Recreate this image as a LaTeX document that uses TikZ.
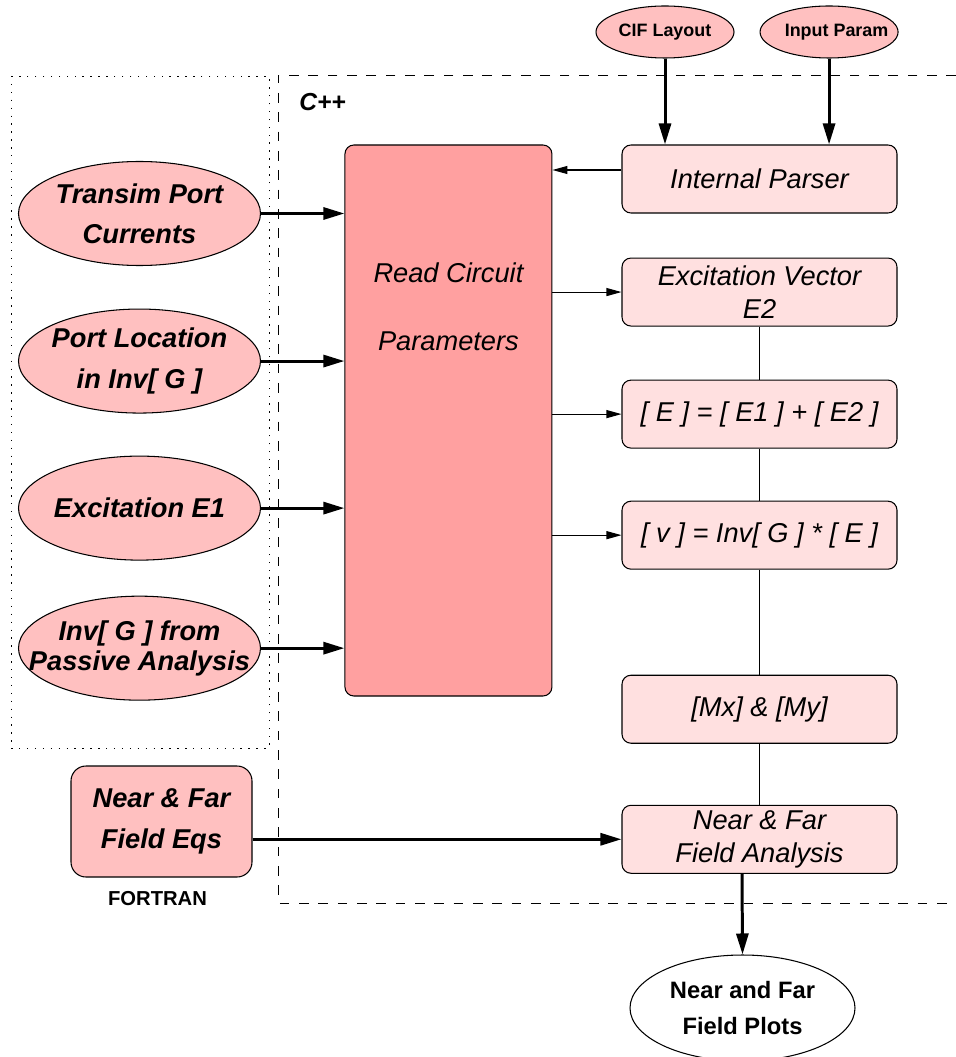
\documentclass[tikz,border=0pt]{standalone}
\usepackage{fontspec}
\setmainfont{Liberation Sans}
\usetikzlibrary{positioning,shapes.geometric,arrows.meta}
\definecolor{ellpink}{RGB}{255,192,192}
\definecolor{readpink}{RGB}{255,160,160}
\definecolor{boxpink}{RGB}{255,224,224}
\newcommand{\ovr}[1]{\makebox[0pt]{#1}}

\begin{document}
\begin{tikzpicture}[
    node distance=0.85cm,
    midbox/.style={draw, line width=0.6pt, rounded corners=0.18cm, fill=boxpink, minimum width=5.5cm, minimum height=1.36cm, inner sep=0.5pt, align=center, font=\itshape\fontsize{15.5}{18.5}\selectfont},
    readbox/.style={draw, line width=0.6pt, rounded corners=0.18cm, fill=readpink, minimum width=4.14cm, minimum height=11.02cm},
    readlbl/.style={align=center, font=\itshape\fontsize{15.5}{18.5}\selectfont},
    srcell/.style={draw, line width=0.6pt, ellipse, fill=ellpink, minimum width=4.84cm, minimum height=2.08cm, inner sep=0pt, align=center, font=\bfseries\itshape\fontsize{15.5}{23}\selectfont},
    topell/.style={srcell, minimum width=2.76cm, minimum height=1.04cm, font=\bfseries\fontsize{10.2}{12}\selectfont},
    eqbox/.style={draw, line width=0.6pt, rounded corners=0.3cm, fill=ellpink, minimum width=3.62cm, minimum height=2.22cm, align=center, font=\bfseries\itshape\fontsize{15.5}{23}\selectfont},
    plotell/.style={draw, line width=0.6pt, ellipse, fill=white, minimum width=4.5cm, minimum height=2.12cm, inner sep=0pt, align=center, font=\bfseries\fontsize{13.5}{20.5}\selectfont},
    bigarrow/.style={-{Triangle[length=0.42cm,width=0.24cm]}, line width=1.7pt},
    smallarrow/.style={-{Triangle[length=0.3cm,width=0.16cm]}, line width=0.6pt},
    link/.style={line width=0.6pt}
]
\useasboundingbox (0,0) rectangle (19.12,-21.14);

% Frames
\draw[dash pattern=on 0.8pt off 3.7pt] (0.22,-1.52) rectangle (5.38,-14.96);
\draw[dash pattern=on 5.5pt off 5.5pt] (19.12,-1.5) -- (5.56,-1.5) -- (5.56,-18.06) -- (19.12,-18.06);
\node[font=\bfseries\itshape\fontsize{14}{16}\selectfont] (cpp) at (6.45,-2.04) {C++};

% Right column
\node[midbox] (parser) at (15.19,-3.58) {Internal Parser};
\node[midbox, below=0.88cm of parser] (exvec) {Excitation Vector\\E2};
\node[midbox, below=1.06cm of exvec] (esum) {[ E ] = [ E1 ] + [ E2 ]};
\node[midbox, below=1.04cm of esum] (vsol) {[ v ] = Inv[ G ] * [ E ]};
\node[midbox, below=2.1cm of vsol] (mxmy) {[Mx] \& [My]};
\node[midbox, below=1.22cm of mxmy] (nfbox) {Near \& Far\\Field Analysis};

% Inputs on top
\node[topell] (cif) at (13.30,-0.64) {\ovr{CIF Layout}};
\node[topell, right=0.5cm of cif] (inparam) {\ovr{\hspace{0.3cm}Input Param}};

% Reader
\node[readbox, anchor=north east] (read) at ([xshift=-1.38cm]parser.north west) {};
\node[readlbl] (readtxt) at ([yshift=2.27cm]read.center) {Read Circuit\\[20pt]Parameters};

% Left inputs
\node[srcell] (transim) at (2.79,-4.27) {\ovr{Transim Port}\\\ovr{Currents}};
\node[srcell, below=0.85cm of transim] (portloc) {\ovr{Port Location}\\\ovr{in Inv[ G ]}};
\node[srcell, below=0.84cm of portloc] (excit) {\ovr{Excitation E1}};
\node[srcell, below=0.70cm of excit] (invg) {\ovr{Inv[ G ] from}\\[-6pt]\ovr{Passive Analysis}};

% Fortran part and output
\node[eqbox] (fieldeq) at (3.23,-16.43) {Near \& Far\\Field Eqs};
\node[font=\bfseries\fontsize{11.5}{13}\selectfont, below=0.15cm of fieldeq, xshift=-0.08cm] (fortran) {FORTRAN};
\node[plotell] (plots) at (14.85,-20.16) {Near and Far\\Field Plots};

% Arrows
\draw[bigarrow] (cif) -- (cif.south |- parser.north);
\draw[bigarrow] (inparam) -- (inparam.south |- parser.north);
\draw[smallarrow] ([yshift=0.18cm]parser.west) -- ([yshift=0.18cm]parser.west -| read.east);
\foreach \dst in {exvec, esum, vsol}
  \draw[smallarrow] (read.east |- \dst.west) -- (\dst.west);
\foreach \src in {transim, portloc, excit, invg}
  \draw[bigarrow] (\src.east) -- (\src.east -| read.west);
\foreach \a/\b in {exvec/esum, esum/vsol, vsol/mxmy, mxmy/nfbox}
  \draw[link] (\a) -- (\b);
\draw[bigarrow] (fieldeq.east |- nfbox.west) -- (nfbox.west);
\draw[bigarrow] ([xshift=-0.35cm]nfbox.south) -- (plots.north);
\end{tikzpicture}
\end{document}
